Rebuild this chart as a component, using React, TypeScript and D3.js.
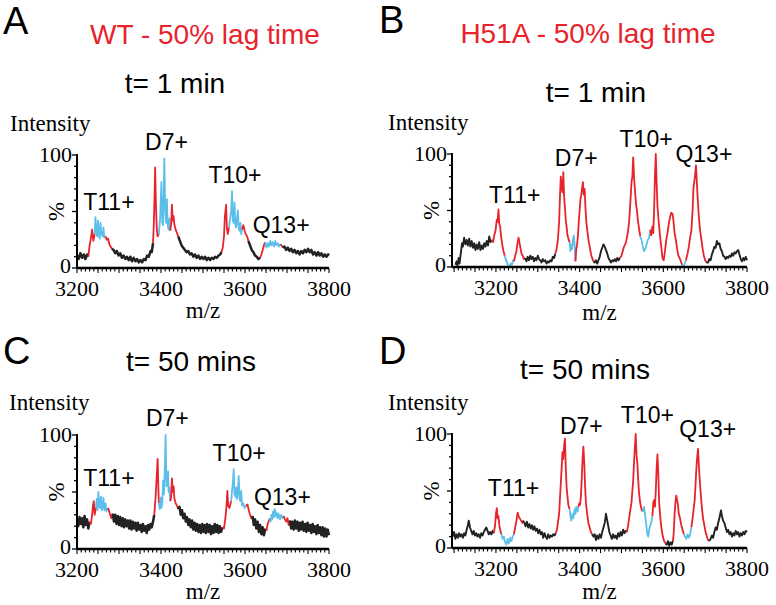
import React from "react";
import * as d3 from "d3";

type Pt = [number, number];
type Range = [number, number];

// ---- Panel A : WT, t = 1 min ----
const spectrumA: Pt[] = [
  [3200,11],[3204,8],[3208,13],[3212,9],[3216,12],[3220,8],[3224,12],[3227,10],
  [3230,20],[3233,26],[3236,34],[3239,24],
  [3242,30],[3244,45],[3246,32],[3248,28],[3250,42],[3252,30],[3254,26],[3256,40],[3258,30],[3261,28],[3263,36],[3265,27],
  [3268,28],[3271,25],[3274,26],[3277,21],[3280,19],[3283,17],
  [3287,16],[3291,13],[3295,15],[3299,11],[3303,13],[3307,9],[3311,11],[3315,8],[3319,10],[3323,7],[3327,10],[3331,6],
  [3335,9],[3339,6],[3343,8],[3347,5],[3351,7],[3355,5],[3359,8],[3363,7],[3367,11],[3371,10],[3375,15],[3378,14],
  [3381,22],[3383,40],[3385,70],[3386,89],[3388,55],[3390,35],[3392,28],
  [3395,30],[3398,45],[3401,76],[3403,40],[3405,38],[3408,97],[3410,52],[3412,40],[3414,61],[3416,38],[3418,34],[3420,44],[3422,33],
  [3424,38],[3426,56],[3428,42],[3430,46],[3432,38],[3435,34],[3438,31],[3441,28],
  [3445,24],[3449,20],[3453,18],[3457,16],[3461,14],[3465,15],[3469,12],[3473,13],[3477,10],[3481,12],[3485,9],[3489,11],
  [3493,8],[3497,10],[3501,8],[3505,10],[3509,7],[3513,9],[3517,7],[3521,9],[3525,8],[3529,10],[3533,9],[3537,11],[3541,12],[3544,14],
  [3547,18],[3550,28],[3552,45],[3555,56],[3557,35],[3559,30],
  [3562,36],[3565,45],[3567,50],[3569,68],[3571,42],[3573,40],[3575,58],[3577,38],[3579,36],[3581,44],[3583,51],[3585,35],
  [3587,33],[3589,40],[3591,30],[3593,34],
  [3596,38],[3599,33],[3602,30],[3605,28],[3608,24],
  [3612,20],[3616,16],[3620,14],[3624,11],[3628,10],[3632,8],[3636,9],
  [3639,12],[3642,16],[3645,20],[3648,23],
  [3651,18],[3654,22],[3657,19],[3660,24],[3663,20],[3666,23],[3669,19],[3672,24],[3675,20],[3678,22],[3681,19],[3684,21],
  [3687,20],[3690,18],
  [3694,19],[3698,16],[3702,18],[3706,15],[3710,17],[3714,14],[3718,16],[3722,13],[3726,15],[3730,12],[3734,15],[3738,13],
  [3742,16],[3746,14],[3750,17],[3754,14],[3758,16],[3762,12],[3766,14],[3770,11],[3774,14],[3778,11],[3782,13],[3786,10],
  [3790,12],[3794,10],[3798,12],[3800,11],
];
const redA: Range[] = [[3228,3241],[3267,3284],[3380,3394],[3422,3442],[3545,3561],[3593,3609],[3637,3649],[3684,3691]];
const blueA: Range[] = [[3241,3267],[3394,3422],[3561,3593],[3649,3684]];
const peaksA = [
  { text: "T11+", mz: 3276, pct: 51 },
  { text: "D7+", mz: 3413, pct: 104 },
  { text: "T10+", mz: 3576, pct: 75 },
  { text: "Q13+", mz: 3686, pct: 31 },
];

// ---- Panel B : H51A, t = 1 min ----
const spectrumB: Pt[] = [
  [3103,2],[3106,5],[3108,1],[3111,8],[3113,3],[3116,12],[3119,21],[3121,18],[3124,26],[3127,20],[3130,24],[3133,19],
  [3136,25],[3139,18],[3142,23],[3145,17],[3148,21],[3151,15],[3154,20],[3157,16],[3160,22],[3163,15],[3166,19],[3169,16],
  [3172,21],[3175,18],[3178,23],[3181,19],[3184,27],[3187,22],[3190,24],
  [3193,22],[3196,28],[3199,32],[3202,42],[3204,40],[3206,51],[3208,38],[3210,36],[3212,28],[3215,20],[3218,14],
  [3221,10],[3224,6],[3227,4],[3229,1],[3232,0],[3235,3],[3238,2],[3241,6],[3243,5],
  [3246,10],[3249,14],[3251,20],[3254,26],[3256,22],[3258,18],[3261,12],[3264,10],[3267,7],
  [3270,8],[3273,5],[3276,9],[3279,6],[3282,10],[3285,7],[3288,9],[3291,5],[3294,8],[3297,6],[3300,10],[3303,7],
  [3306,6],[3309,4],[3312,7],[3315,5],[3318,6],[3321,3],[3324,5],[3327,4],[3330,6],[3333,5],[3336,9],[3339,8],
  [3342,12],[3345,16],[3348,24],[3351,40],[3353,62],[3355,80],[3357,70],[3359,66],[3361,84],[3363,62],[3365,52],[3367,41],
  [3369,35],[3371,28],[3374,24],[3376,22],
  [3378,14],[3380,20],[3382,16],[3384,24],[3386,28],[3388,20],[3390,5],
  [3392,16],[3394,20],[3396,28],[3398,40],[3400,50],[3402,60],[3404,64],[3406,70],[3408,75],[3410,64],[3412,69],[3414,52],
  [3416,40],[3419,30],[3422,22],[3425,16],[3428,10],[3431,7],[3433,5],
  [3436,4],[3439,6],[3442,3],[3445,6],[3448,9],[3451,14],[3454,17],[3457,20],[3460,18],[3463,15],[3466,12],[3469,8],
  [3472,6],[3475,4],[3478,6],[3481,5],[3484,7],[3487,5],[3490,8],[3493,6],[3496,8],
  [3500,10],[3503,14],[3506,18],[3509,20],[3512,24],[3515,30],[3518,39],[3520,50],[3522,62],[3524,75],[3526,80],[3528,97],
  [3530,80],[3532,69],[3535,55],[3537,50],[3539,42],[3542,34],[3545,27],
  [3548,24],[3551,18],[3554,14],[3557,16],[3560,20],[3563,24],[3566,26],
  [3569,33],[3571,28],[3574,36],[3576,30],[3578,50],[3580,80],[3582,100],[3584,75],[3586,54],[3589,40],[3592,28],[3595,18],
  [3598,8],[3601,6],[3604,14],[3607,24],[3610,30],[3613,38],[3616,44],[3619,48],[3622,47],[3624,42],[3627,30],[3630,24],
  [3633,16],[3636,10],[3639,8],[3642,5],
  [3645,2],[3648,0],[3651,3],[3654,6],
  [3658,12],[3661,18],[3664,26],[3667,32],[3670,50],[3672,70],[3674,75],[3676,82],[3678,90],[3680,76],[3682,62],[3685,44],
  [3688,32],[3691,24],[3694,16],[3697,10],[3700,6],[3703,4],
  [3707,4],[3710,7],[3713,6],[3716,11],[3719,14],[3722,18],[3725,17],[3728,23],[3731,20],[3734,21],[3737,16],[3740,14],
  [3743,10],[3746,9],[3749,7],[3752,9],[3755,8],[3758,10],[3761,9],[3764,12],[3767,10],[3770,13],[3773,12],[3776,14],
  [3779,15],[3782,11],[3785,7],[3788,5],[3791,8],[3794,6],[3797,9],[3800,6],
];
const redB: Range[] = [[3191,3220],[3244,3269],[3341,3377],[3391,3434],[3498,3546],[3568,3644],[3656,3705]];
const blueB: Range[] = [[3220,3244],[3377,3391],[3546,3568],[3644,3656]];
const peaksB = [
  { text: "T11+", mz: 3245, pct: 57 },
  { text: "D7+", mz: 3392, pct: 89 },
  { text: "T10+", mz: 3559, pct: 106 },
  { text: "Q13+", mz: 3697, pct: 93 },
];

// ---- Panel C : WT, t = 50 mins ----
const spectrumC: Pt[] = [
  [3200,26],[3203,20],[3206,28],[3209,22],[3212,27],[3215,19],[3218,29],[3221,21],[3224,26],[3227,18],[3230,24],
  [3233,22],[3236,30],[3238,38],[3240,42],[3242,30],
  [3245,36],[3247,44],[3249,34],[3251,50],[3253,38],[3255,36],[3257,46],[3259,34],[3261,38],[3263,45],[3265,34],[3268,40],
  [3270,33],[3273,36],
  [3276,34],[3279,30],[3282,27],
  [3285,31],[3288,24],[3291,30],[3294,22],[3297,29],[3300,21],[3303,28],[3306,20],[3309,27],[3312,19],[3315,26],[3318,20],
  [3321,25],[3324,18],[3327,25],[3330,17],[3333,24],[3336,18],[3339,23],[3342,16],[3345,23],[3348,17],[3351,21],[3354,15],
  [3357,22],[3360,16],[3363,20],[3366,14],[3369,21],[3372,17],[3375,22],[3378,19],[3381,24],
  [3384,30],[3387,45],[3390,65],[3392,79],[3394,50],[3395,40],
  [3397,35],[3399,45],[3401,36],[3403,40],[3405,60],[3407,48],[3409,70],[3411,100],[3413,55],[3415,60],[3417,68],[3418,50],
  [3420,54],[3422,42],
  [3424,45],[3426,62],[3428,50],[3430,55],[3432,44],[3435,40],[3438,38],[3441,35],
  [3444,37],[3447,30],[3450,34],[3453,27],[3456,31],[3459,24],[3462,28],[3465,21],[3468,26],[3471,19],[3474,25],[3477,17],
  [3480,23],[3483,16],[3486,22],[3489,15],[3492,21],[3495,14],[3498,22],[3501,15],[3504,21],[3507,14],[3510,22],[3513,15],
  [3516,21],[3519,13],[3522,20],[3525,14],[3528,22],[3531,15],[3534,21],[3537,14],[3540,20],[3543,15],[3546,19],
  [3550,18],[3553,26],[3556,38],[3558,51],[3560,38],[3563,36],
  [3567,42],[3569,50],[3571,58],[3573,70],[3575,48],[3577,46],[3579,54],[3581,44],[3583,50],[3585,64],[3587,44],[3589,42],
  [3591,51],[3593,38],[3596,40],[3599,36],[3602,38],
  [3606,39],[3609,34],[3612,30],[3615,27],
  [3618,29],[3621,21],[3624,26],[3627,18],[3630,24],[3633,15],[3636,21],[3639,13],[3642,19],[3645,12],[3648,17],
  [3651,16],[3654,22],[3657,25],[3659,27],
  [3661,24],[3663,30],[3665,26],[3667,33],[3669,28],[3671,35],[3673,29],[3675,32],[3677,27],[3680,31],[3683,26],[3686,30],
  [3689,27],[3692,29],
  [3695,26],[3698,24],[3701,27],[3704,21],
  [3707,25],[3710,18],[3713,24],[3716,17],[3719,25],[3722,18],[3725,24],[3728,16],[3731,23],[3734,17],[3737,24],[3740,16],
  [3743,22],[3746,15],[3749,23],[3752,16],[3755,21],[3758,14],[3761,22],[3764,15],[3767,20],[3770,13],[3773,21],[3776,14],
  [3779,19],[3782,12],[3785,19],[3788,11],[3791,18],[3794,11],[3797,17],[3800,12],
];
const redC: Range[] = [[3231,3244],[3274,3284],[3383,3396],[3422,3442],[3548,3566],[3604,3617],[3650,3660],[3693,3706]];
const blueC: Range[] = [[3244,3274],[3396,3422],[3566,3604],[3660,3693]];
const peaksC = [
  { text: "T11+", mz: 3276, pct: 55 },
  { text: "D7+", mz: 3415, pct: 108 },
  { text: "T10+", mz: 3586, pct: 77 },
  { text: "Q13+", mz: 3689, pct: 39 },
];

// ---- Panel D : H51A, t = 50 mins ----
const spectrumD: Pt[] = [
  [3097,10],[3100,14],[3103,8],[3106,12],[3109,9],[3112,13],[3115,10],[3118,12],[3121,9],[3124,13],[3127,11],[3130,16],
  [3133,20],[3135,24],[3138,18],[3141,15],[3144,12],[3147,15],[3150,11],[3153,13],[3156,10],[3159,12],[3162,9],[3165,13],
  [3168,11],[3171,14],[3174,16],[3177,18],[3180,15],[3183,12],[3186,14],[3189,12],[3192,15],[3195,13],
  [3198,20],[3200,30],[3202,35],[3204,26],[3206,28],[3208,20],[3210,16],
  [3213,12],[3216,8],[3219,10],[3222,5],[3225,3],[3228,8],[3231,4],[3234,9],[3237,6],[3240,10],[3243,12],
  [3246,18],[3249,24],[3252,31],[3254,28],[3257,26],[3260,24],[3263,22],[3265,24],
  [3268,22],[3271,19],[3274,23],[3277,18],[3280,21],[3283,17],[3286,20],[3289,16],[3292,19],[3295,15],[3298,17],[3301,13],
  [3304,16],[3307,12],[3310,14],[3313,9],[3316,13],[3319,10],[3322,8],[3325,12],[3328,9],[3331,11],[3334,10],[3337,12],
  [3340,11],[3343,13],
  [3346,16],[3348,22],[3351,30],[3354,50],[3357,70],[3359,84],[3361,78],[3363,90],[3365,96],[3367,70],[3369,53],[3371,45],
  [3373,38],[3376,34],
  [3378,28],[3380,24],[3383,30],[3385,26],[3388,34],[3390,30],[3392,36],[3395,32],[3397,36],
  [3399,39],[3401,38],[3403,45],[3405,60],[3407,78],[3409,89],[3411,75],[3413,55],[3415,40],[3418,30],[3421,22],[3424,18],
  [3427,14],[3430,12],
  [3433,10],[3436,12],[3439,7],[3442,11],[3445,8],[3448,12],[3451,9],[3454,14],[3457,18],[3460,22],[3463,30],[3465,26],
  [3468,20],[3471,14],[3474,11],[3477,8],[3480,12],[3483,9],[3486,11],[3489,8],[3492,13],[3495,10],[3498,14],[3501,11],
  [3504,16],[3507,13],[3510,15],[3513,14],
  [3516,20],[3519,28],[3521,33],[3524,40],[3526,50],[3528,59],[3530,75],[3532,88],[3534,100],[3536,82],[3538,74],[3540,60],
  [3542,48],[3545,39],[3548,34],
  [3551,32],[3554,36],[3556,30],[3558,24],[3560,18],[3562,12],[3564,10],[3566,16],[3569,20],[3572,24],[3574,28],
  [3576,40],[3578,42],[3580,36],[3582,50],[3584,70],[3586,82],[3588,66],[3590,40],[3593,26],[3596,16],[3599,10],[3602,6],
  [3605,4],
  [3608,3],[3611,6],[3614,2],[3617,5],[3620,3],[3623,6],
  [3625,14],[3627,30],[3629,40],[3631,46],[3633,42],[3635,38],[3637,30],[3640,26],[3643,20],[3646,16],[3649,12],
  [3652,10],[3655,8],[3658,12],[3661,9],[3664,12],
  [3667,18],[3670,26],[3673,36],[3675,42],[3677,55],[3679,70],[3681,80],[3683,87],[3685,72],[3687,60],[3689,50],[3692,36],
  [3695,26],[3698,20],[3701,14],[3704,10],[3707,7],[3710,6],
  [3713,8],[3716,11],[3719,9],[3722,14],[3725,18],[3728,16],[3731,22],[3734,26],[3736,30],[3738,33],[3740,28],[3743,24],
  [3746,22],[3749,18],[3752,14],[3755,16],[3758,12],[3761,14],[3764,10],[3767,13],[3770,11],[3773,15],[3776,12],[3779,14],
  [3782,10],[3785,13],[3788,11],[3791,14],[3794,12],[3797,15],[3800,14],
];
const redD: Range[] = [[3196,3212],[3244,3266],[3344,3377],[3398,3431],[3514,3550],[3575,3606],[3624,3650],[3666,3711]];
const blueD: Range[] = [[3212,3244],[3377,3398],[3550,3575],[3650,3666]];
const peaksD = [
  { text: "T11+", mz: 3242, pct: 46 },
  { text: "D7+", mz: 3404, pct: 100 },
  { text: "T10+", mz: 3562, pct: 110 },
  { text: "Q13+", mz: 3706, pct: 97 },
];

const xTickLabels = [3200, 3400, 3600, 3800];

const RED = "#e8232b";
const BLUE = "#5bbfea";
const BLACK = "#222222";
const SANS = "'Liberation Sans', Arial, sans-serif";
const SERIF = "'Liberation Serif', 'Times New Roman', serif";

type PanelProps = {
  data: Pt[];
  red: Range[];
  blue: Range[];
  peaks: { text: string; mz: number; pct: number }[];
  xDomain: Range;
  xRange: Range;
  yRange: Range;
  mzLabelY: number;
  intensityX: number;
  intensityY: number;
  blackWidth: number;
};

function colorAt(mz: number, red: Range[], blue: Range[]) {
  if (red.some(([a, b]) => mz >= a && mz < b)) return RED;
  if (blue.some(([a, b]) => mz >= a && mz < b)) return BLUE;
  return BLACK;
}

function Panel(p: PanelProps) {
  const x = d3.scaleLinear().domain(p.xDomain).range(p.xRange);
  const y = d3.scaleLinear().domain([0, 100]).range(p.yRange);
  const line = d3.line<Pt>().x((d) => x(d[0])).y((d) => y(d[1]));

  // split the trace into runs of equal colour
  const runs: { color: string; pts: Pt[] }[] = [];
  for (let i = 0; i < p.data.length - 1; i++) {
    const mid = (p.data[i][0] + p.data[i + 1][0]) / 2;
    const c = colorAt(mid, p.red, p.blue);
    const last = runs[runs.length - 1];
    if (last && last.color === c) last.pts.push(p.data[i + 1]);
    else runs.push({ color: c, pts: [p.data[i], p.data[i + 1]] });
  }

  const ax = p.xRange[0];
  const y0 = y(0);
  const minorX = d3.range(Math.ceil(p.xDomain[0] / 10) * 10, p.xDomain[1] + 1, 10);
  const yTicks = d3.range(0, 101, 10);

  return (
    <g>
      {runs.map((r, i) => (
        <path
          key={i}
          d={line(r.pts) || ""}
          fill="none"
          stroke={r.color}
          strokeWidth={r.color === BLACK ? p.blackWidth : 1.8}
          strokeLinejoin="round"
        />
      ))}
      {/* y axis */}
      <line x1={ax} x2={ax} y1={y(100) - 1} y2={y0} stroke="#000" strokeWidth={2} />
      {yTicks.map((t) => (
        <line key={t} x1={ax - (t % 50 === 0 ? 5 : 3)} x2={ax} y1={y(t)} y2={y(t)} stroke="#000" strokeWidth={1.3} />
      ))}
      <text x={ax - 5} y={y(100) + 7} textAnchor="end" fontFamily={SERIF} fontSize={22}>100</text>
      <text x={ax - 6} y={y0 + 5} textAnchor="end" fontFamily={SERIF} fontSize={22}>0</text>
      <text
        transform={`translate(${ax - 13},${y(50)}) rotate(-90)`}
        textAnchor="middle"
        fontFamily={SERIF}
        fontSize={23}
      >
        %
      </text>
      <text x={p.intensityX} y={p.intensityY} fontFamily={SERIF} fontSize={23}>Intensity</text>
      {/* x axis */}
      <line x1={ax} x2={p.xRange[1]} y1={y0} y2={y0} stroke="#000" strokeWidth={2.5} />
      {minorX.map((t) => (
        <line key={t} x1={x(t)} x2={x(t)} y1={y0} y2={y0 + (t % 50 === 0 ? 5 : 3.5)} stroke="#000" strokeWidth={1.1} />
      ))}
      {xTickLabels.map((t) => (
        <text key={t} x={x(t)} y={y0 + 28} textAnchor="middle" fontFamily={SERIF} fontSize={22}>
          {t}
        </text>
      ))}
      <text x={(p.xRange[0] + p.xRange[1]) / 2} y={p.mzLabelY} textAnchor="middle" fontFamily={SERIF} fontSize={23}>
        m/z
      </text>
      {p.peaks.map((pk) => (
        <text key={pk.text} x={x(pk.mz)} y={y(pk.pct)} textAnchor="middle" fontFamily={SANS} fontSize={23}>
          {pk.text}
        </text>
      ))}
    </g>
  );
}

export default function App() {
  return (
    <svg
      width={776}
      height={605}
      style={{ position: "absolute", left: 0, top: 0, background: "#fff" }}
    >
      <text x={3} y={34} fontFamily={SANS} fontSize={38}>A</text>
      <text x={379} y={33} fontFamily={SANS} fontSize={38}>B</text>
      <text x={3} y={364} fontFamily={SANS} fontSize={38}>C</text>
      <text x={379} y={364} fontFamily={SANS} fontSize={38}>D</text>

      <text x={205} y={44} textAnchor="middle" fontFamily={SANS} fontSize={28} fill={RED}>WT - 50% lag time</text>
      <text x={588} y={43} textAnchor="middle" fontFamily={SANS} fontSize={28} fill={RED}>H51A - 50% lag time</text>
      <text x={175} y={93} textAnchor="middle" fontFamily={SANS} fontSize={28}>t= 1 min</text>
      <text x={596} y={102} textAnchor="middle" fontFamily={SANS} fontSize={28}>t= 1 min</text>
      <text x={191} y={371} textAnchor="middle" fontFamily={SANS} fontSize={28}>t= 50 mins</text>
      <text x={585} y={379} textAnchor="middle" fontFamily={SANS} fontSize={28}>t= 50 mins</text>

      <Panel data={spectrumA} red={redA} blue={blueA} peaks={peaksA}
        xDomain={[3200, 3800]} xRange={[77, 329]} yRange={[268, 155]}
        mzLabelY={318} intensityX={10} intensityY={131} blackWidth={2.5} />
      <Panel data={spectrumB} red={redB} blue={blueB} peaks={peaksB}
        xDomain={[3095, 3800]} xRange={[452, 747]} yRange={[267, 154]}
        mzLabelY={320} intensityX={388} intensityY={130} blackWidth={1.9} />
      <Panel data={spectrumC} red={redC} blue={blueC} peaks={peaksC}
        xDomain={[3200, 3800]} xRange={[77, 329]} yRange={[549, 435]}
        mzLabelY={599} intensityX={9} intensityY={410} blackWidth={2.5} />
      <Panel data={spectrumD} red={redD} blue={blueD} peaks={peaksD}
        xDomain={[3095, 3800]} xRange={[452, 747]} yRange={[548, 434]}
        mzLabelY={599} intensityX={388} intensityY={410} blackWidth={1.9} />
    </svg>
  );
}
